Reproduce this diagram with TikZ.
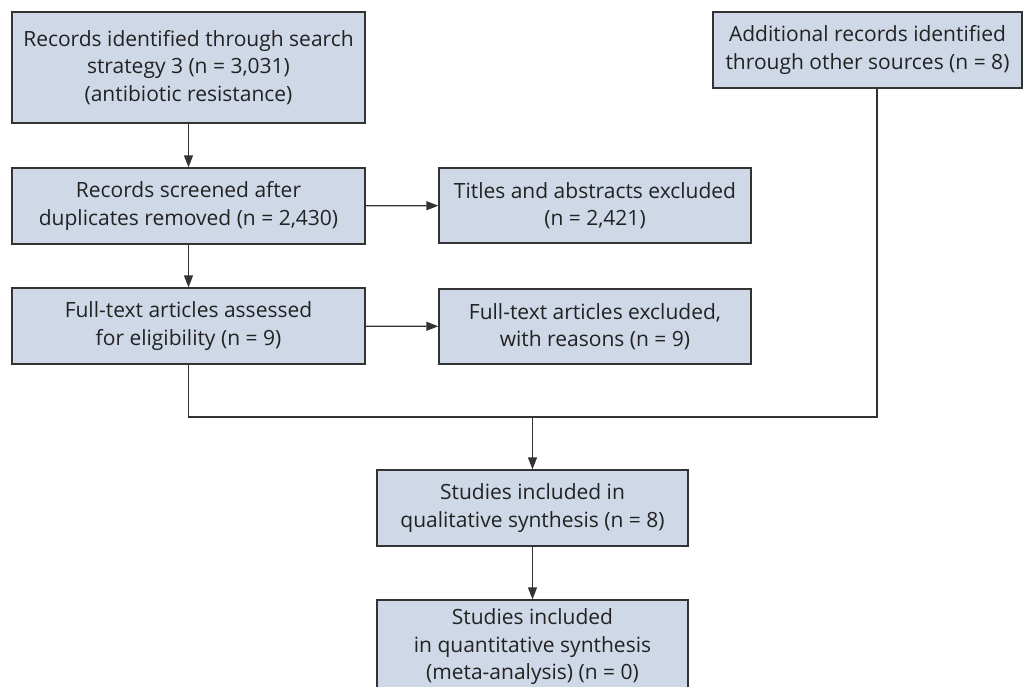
\documentclass[tikz,border=0pt]{standalone}
\usepackage{fontspec}
\setmainfont{Open Sans}
\usetikzlibrary{arrows.meta}
\definecolor{boxfill}{HTML}{CFD8E6}
\definecolor{boxline}{HTML}{333333}
\definecolor{txt}{HTML}{222222}
\begin{document}
\begin{tikzpicture}[x=1pt,y=-1pt,
  flowbox/.style={draw=boxline,fill=boxfill,line width=1.4pt,align=center,
    text=txt,inner sep=0pt,font=\fontsize{21}{27.5}\selectfont},
  conn/.style={draw=boxline,line width=1.4pt},
  arr/.style={conn,-{Triangle[length=12pt,width=9pt]}}]
\useasboundingbox (0,0) rectangle (1029,686);
\begin{scope}
\clip (0,0) rectangle (1029,686);
\node[flowbox,minimum width=353pt,minimum height=111pt] (b1) at (188.5,67.5)
  {Records identified through search\\strategy 3 (n = 3,031)\\(antibiotic resistance)};
\node[flowbox,minimum width=309pt,minimum height=76pt] (b2) at (867.5,50)
  {Additional records identified\\through other sources (n = 8)};
\node[flowbox,minimum width=353pt,minimum height=76pt] (b3) at (188.5,206)
  {Records screened after\\duplicates removed (n = 2,430)};
\node[flowbox,minimum width=312pt,minimum height=75pt] (b4) at (595,205.5)
  {Titles and abstracts excluded\\(n = 2,421)};
\node[flowbox,minimum width=353pt,minimum height=76pt] (b5) at (188.5,326)
  {Full-text articles assessed\\for eligibility (n = 9)};
\node[flowbox,minimum width=312pt,minimum height=75pt] (b6) at (595,326.5)
  {Full-text articles excluded,\\with reasons (n = 9)};
\node[flowbox,minimum width=311pt,minimum height=76pt] (b7) at (532.5,508)
  {Studies included in\\qualitative synthesis (n = 8)};
\node[flowbox,minimum width=311pt,minimum height=94pt] (b8) at (532.5,647)
  {Studies included\\in quantitative synthesis\\(meta-analysis) (n = 0)};
\end{scope}
\coordinate (jl) at (b5.south |- 0,417);
\coordinate (jr) at (877,417);
\coordinate (jm) at (b7.north |- 0,417);
\coordinate (b2s) at (877,0 |- b2.south);
\draw[arr] (b1) -- (b3);
\draw[arr] (b3) -- (b4);
\draw[arr] (b3) -- (b5);
\draw[arr] (b5) -- (b6);
\draw[conn] (b5.south) -- (jl) -- (jr) -- (b2s);
\draw[arr] (jm) -- (b7.north);
\draw[arr] (b7) -- (b8);
\end{tikzpicture}
\end{document}
